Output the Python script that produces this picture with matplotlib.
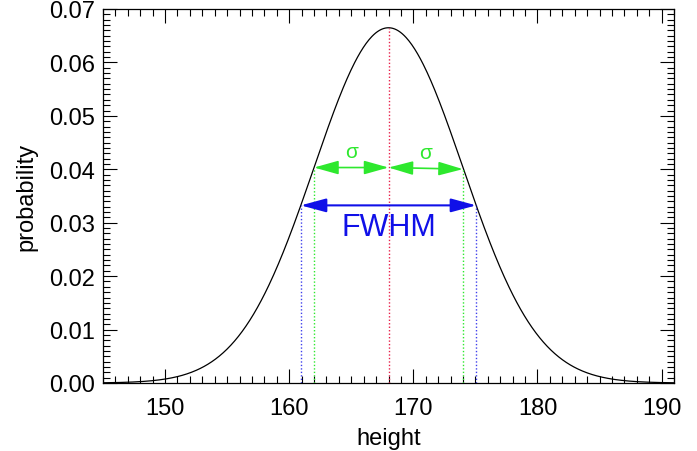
import numpy as np
import matplotlib.pyplot as plt
from matplotlib.ticker import MultipleLocator

# Parameters of the normal distribution shown in the chart
mu = 168.0
sigma = 6.0
x_range = [145.0, 191.0]
y_range = [0.0, 0.07]
x_ticks = [150, 160, 170, 180, 190]
y_ticks = [0.00, 0.01, 0.02, 0.03, 0.04, 0.05, 0.06, 0.07]

GREEN = '#2ee82e'
BLUE = '#1010e8'
RED = '#e8204a'


def pdf(v):
    return np.exp(-0.5 * ((v - mu) / sigma) ** 2) / (sigma * np.sqrt(2 * np.pi))


plt.rcParams['font.family'] = ['Liberation Sans', 'DejaVu Sans']

fig = plt.figure(figsize=(6.97, 4.52), dpi=100)
ax = fig.add_axes([103 / 697, 1 - 384 / 452, (674 - 103) / 697, (384 - 10) / 452])

x = np.linspace(x_range[0], x_range[1], 600)
ax.plot(x, pdf(x), color='black', lw=0.9)

# вертикальні пунктирні лінії
peak = pdf(mu)
half = peak / 2
hw = sigma * np.sqrt(2 * np.log(2))
ax.plot([mu, mu], [0, peak], color=RED, lw=1, ls=(0, (1, 1.5)))
for xs in (mu - sigma, mu + sigma):
    ax.plot([xs, xs], [0, pdf(xs)], color=GREEN, lw=1, ls=(0, (1, 1.5)))
for xf in (mu - hw, mu + hw):
    ax.plot([xf, xf], [0, half], color=BLUE, lw=1, ls=(0, (1, 1.5)), alpha=0.8)

# стрілки
ys = pdf(mu - sigma)
arr_g = dict(arrowstyle='<|-|>,head_length=1.5,head_width=0.42', color=GREEN, lw=1.2,
             shrinkA=0, shrinkB=0)
ax.annotate('', xy=(mu, ys), xytext=(mu - sigma, ys), arrowprops=arr_g)
ax.annotate('', xy=(mu + sigma, ys - 0.0003), xytext=(mu, ys), arrowprops=arr_g)
ax.text(mu - sigma / 2, ys + 0.0013, 'σ', color=GREEN, fontsize=15, ha='center', va='bottom')
ax.text(mu + sigma / 2, ys + 0.0011, 'σ', color=GREEN, fontsize=15, ha='center', va='bottom')

arr_b = dict(arrowstyle='<|-|>,head_length=1.55,head_width=0.42', color=BLUE, lw=1.5,
             shrinkA=0, shrinkB=0)
ax.annotate('', xy=(mu + hw, half), xytext=(mu - hw, half), arrowprops=arr_b)
ax.text(mu, half - 0.0012, 'FWHM', color=BLUE, fontsize=22, ha='center', va='top')

ax.set_xlim(x_range)
ax.set_ylim(y_range)
ax.set_xticks(x_ticks)
ax.set_yticks(y_ticks)
ax.set_yticklabels([f'{v:.2f}' for v in y_ticks])
ax.xaxis.set_minor_locator(MultipleLocator(1))
ax.yaxis.set_minor_locator(MultipleLocator(0.001))
ax.tick_params(which='both', direction='in', top=True, right=True, labelsize=17, width=0.8)
ax.tick_params(which='major', length=10)
ax.tick_params(axis='x', which='major', pad=10)
ax.tick_params(axis='y', which='major', pad=6)
ax.tick_params(which='minor', length=5)
for s in ax.spines.values():
    s.set_linewidth(0.9)

ax.set_xlabel('height', fontsize=17, labelpad=6)
ax.set_ylabel('probability', fontsize=17, labelpad=8)

fig.savefig('out.png', dpi=100)
